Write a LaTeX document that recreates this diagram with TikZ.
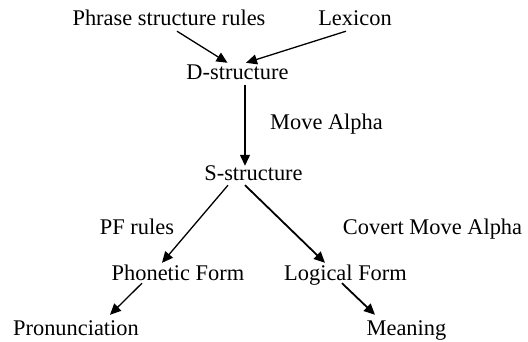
\documentclass[tikz,border=0pt]{standalone}
\usepackage{fontspec}
\setmainfont{Liberation Serif}
\usetikzlibrary{positioning, arrows.meta}

\begin{document}
\begin{tikzpicture}[
  x=1pt, y=-1pt,
  font=\fontsize{22.4}{25}\selectfont,
  level/.style={anchor=base, inner sep=0pt, text height=15pt, text depth=5pt},
  note/.style={anchor=base, inner sep=0pt},
  arr/.style={-{Triangle[length=11pt, width=10pt]}, line width=1.3pt, black},
  harr/.style={arr, line width=1.8pt}
]
  \useasboundingbox (0,0) rectangle (528,342);

  \node[level] (psr) at (169,26) {Phrase structure rules};
  \node[level] (lex) at (355,26) {Lexicon};
  \node[level] (dstr) at (237.5,80) {D-structure};
  \node[level] (sstr) at (253.5,181) {S-structure};
  \node[level] (pf) at (178,280) {Phonetic Form};
  \node[level] (lf) at (345.5,280) {Logical Form};
  \node[level] (pron) at (76,335) {Pronunciation};
  \node[level] (mean) at (406.5,335) {Meaning};

  % Labels beside the arrows
  \node[note] (move) at (326.5,130) {Move Alpha};
  \node[note] (pfr) at (137,234) {PF rules};
  \node[note] (cov) at (432.5,234) {Covert Move Alpha};

  \draw[arr] ([xshift=8pt]psr.south) -- ([xshift=-10pt, yshift=2pt]dstr.north);
  \draw[arr] ([xshift=-9pt]lex.south) -- ([xshift=8.5pt, yshift=2pt]dstr.north);
  \draw[arr] ([xshift=7.5pt]dstr.south) -- ([xshift=-8.5pt]sstr.north);
  \draw[arr] ([xshift=-25.5pt, yshift=1pt]sstr.south) -- ([xshift=-16pt, yshift=2pt]pf.north);
  \draw[harr] ([xshift=-8.5pt, yshift=1pt]sstr.south) -- ([xshift=-20.5pt, yshift=2pt]lf.north);
  \draw[arr] ([xshift=-36pt, yshift=2pt]pf.south) -- ([xshift=34pt, yshift=5pt]pron.north);
  \draw[harr] ([xshift=-3.5pt, yshift=2pt]lf.south) -- ([xshift=-31.5pt, yshift=5pt]mean.north);
\end{tikzpicture}
\end{document}
